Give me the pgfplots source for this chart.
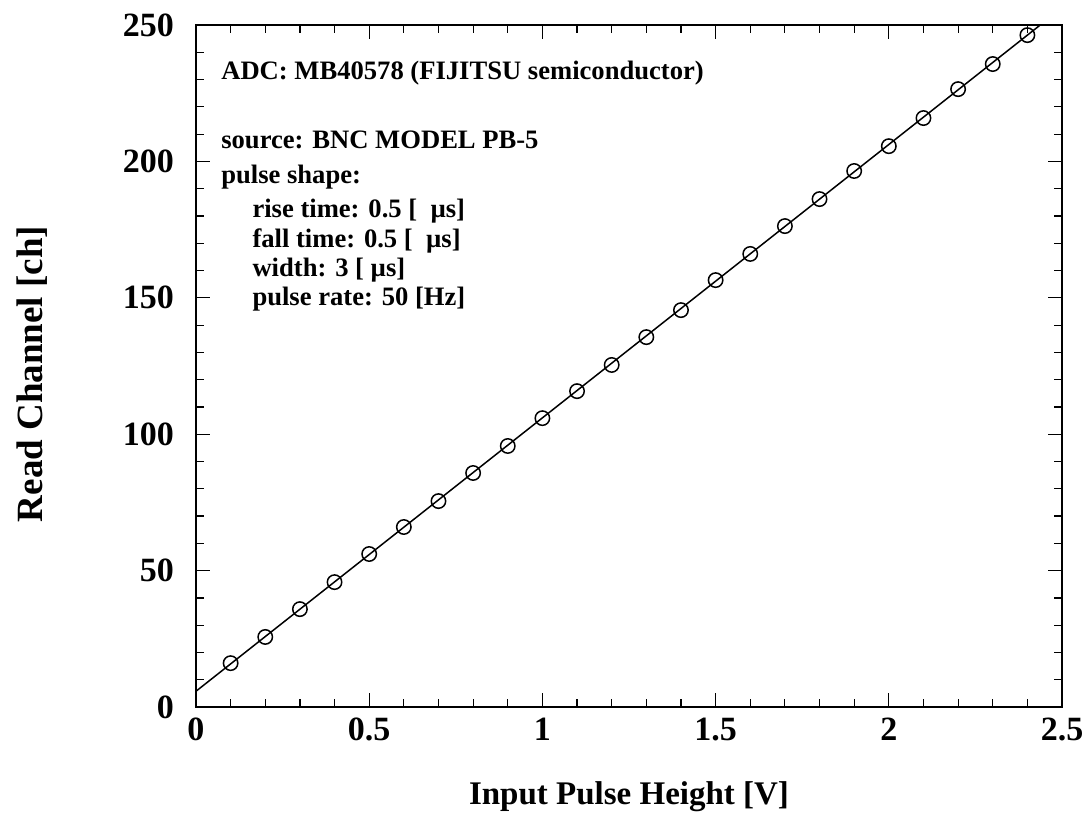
\documentclass[border=0pt]{standalone}
\usepackage{fontspec}
\setmainfont{Liberation Serif}
\usepackage{pgfplots}
\pgfplotsset{compat=1.18}
\begin{document}
\begin{tikzpicture}
\begin{axis}[
  scale only axis,
  width=433pt, height=341pt,
  xmin=0, xmax=2.5, ymin=0, ymax=250,
  xtick={0,0.5,1,1.5,2,2.5},
  xticklabels={0,0.5,1,1.5,2,2.5},
  ytick={0,50,100,150,200,250},
  minor x tick num=4, minor y tick num=4,
  tick align=inside,
  tick pos=both,
  major tick length=7pt, minor tick length=4pt,
  tick style={black, line width=0.6pt},
  axis line style={line width=0.7pt},
  /pgf/number format/assume math mode=true,
  ticklabel style={font=\fontsize{17}{17}\selectfont\bfseries},
  xticklabel style={yshift=-2pt},
  yticklabel style={xshift=-7.5pt},
  xlabel={Input Pulse Height [V]},
  ylabel={Read Channel [ch]},
  xlabel style={font=\fontsize{16.5}{17}\selectfont\bfseries, yshift=-13.5pt},
  ylabel style={font=\fontsize{18.5}{19}\selectfont\bfseries, yshift=31pt, xshift=-4pt},
  clip=true,
]
\addplot[black, line width=0.75pt] coordinates {(0,5.8) (2.437,250)};
\addplot[only marks, mark=o, mark size=3.6pt, mark options={line width=0.75pt, black}] coordinates {
(0.1,16.1) (0.2,25.7) (0.3,35.9) (0.4,45.8) (0.5,56.1) (0.6,66.0)
(0.7,75.5) (0.8,85.8) (0.9,95.7) (1.0,105.9) (1.1,115.8) (1.2,125.4)
(1.3,135.6) (1.4,145.5) (1.5,156.5) (1.6,166.1) (1.7,176.3) (1.8,186.2)
(1.9,196.5) (2.0,205.6) (2.1,215.9) (2.2,226.5) (2.3,235.7) (2.4,246.3)
};
\begin{scope}[every node/.style={anchor=west, font=\fontsize{13.3}{14}\selectfont\bfseries, inner sep=0pt}]
\node at (axis cs:0.072,232.4) {ADC: MB40578 (FIJITSU semiconductor)};
\node at (axis cs:0.072,207.8) {source: BNC MODEL PB-5};
\node at (axis cs:0.072,194.3) {pulse shape:};
\node at (axis cs:0.162,181.8) {rise time: 0.5 [\ \ µs]};
\node at (axis cs:0.162,170.8) {fall time: 0.5 [\ \ µs]};
\node at (axis cs:0.162,160.2) {width: 3 [ µs]};
\node at (axis cs:0.162,149.6) {pulse rate: 50 [Hz]};
\end{scope}
\coordinate (bl) at (rel axis cs:-0.2263,-0.1569);
\coordinate (tr) at (rel axis cs:1.030,1.0367);
\end{axis}
\pgfresetboundingbox
\path (bl) rectangle (tr);
\end{tikzpicture}
\end{document}
